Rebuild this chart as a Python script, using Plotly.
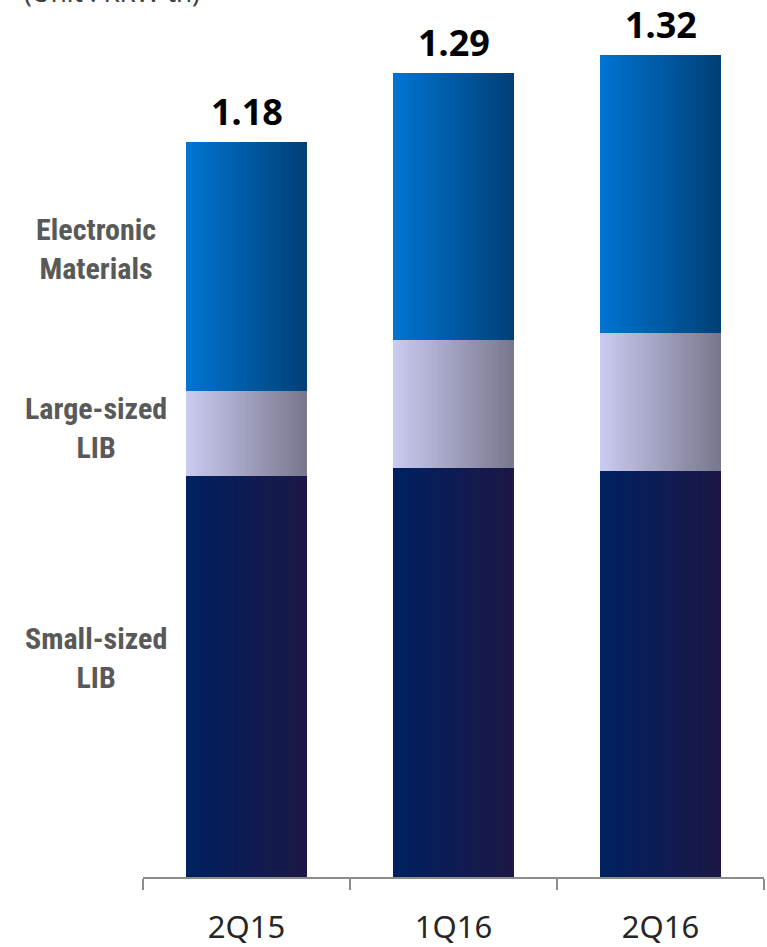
import plotly.graph_objects as go

# ---- data (KRW tn) ----
quarters = ["2Q15", "1Q16", "2Q16"]
totals = [1.18, 1.29, 1.32]
small_lib = [0.644, 0.656, 0.652]
large_lib = [0.137, 0.206, 0.222]
electronic = [0.399, 0.428, 0.446]
segment_names = ["Small-sized LIB", "Large-sized LIB", "Electronic Materials"]
unit_text = "(Unit : KRW tn)"

# ---- styles ----
seg_colors = {
    "Small-sized LIB": ((0, 32, 96), (27, 23, 70)),
    "Large-sized LIB": ((202, 202, 240), (120, 120, 143)),
    "Electronic Materials": ((0, 116, 209), (0, 64, 120)),
}
seg_values = {
    "Small-sized LIB": small_lib,
    "Large-sized LIB": large_lib,
    "Electronic Materials": electronic,
}

W, H = 767, 947
ML, MR, MT, MB = 143, 3, 0, 60
PX_PER_UNIT = 630.0
plot_h = H - MT - MB
y_top = plot_h / PX_PER_UNIT

BAR_W = 0.58
N = 40
sw = BAR_W / N


def mix(c1, c2, t):
    return "rgb(%d,%d,%d)" % tuple(round(a + (b - a) * t) for a, b in zip(c1, c2))


fig = go.Figure()
xs_base = list(range(len(quarters)))
for k in range(N):
    off = -BAR_W / 2 + (k + 0.5) * sw
    xs = [i + off for i in xs_base]
    t = k / (N - 1)
    for name in segment_names:
        c1, c2 = seg_colors[name]
        fig.add_trace(go.Bar(
            x=xs, y=seg_values[name], width=sw * 1.2,
            marker=dict(color=mix(c1, c2, t), line=dict(width=0)),
            showlegend=False, hoverinfo="skip", name=name,
        ))

# total labels
for i, tot in enumerate(totals):
    fig.add_annotation(x=i, y=tot, xref="x", yref="y", text="%.2f" % tot,
                       showarrow=False, yanchor="bottom", yshift=4,
                       font=dict(family="Noto Sans", size=36, color="#000000", weight="bold"))

# left segment labels
label_text = {
    "Electronic Materials": "Electronic<br>Materials",
    "Large-sized LIB": "Large-sized<br>LIB",
    "Small-sized LIB": "Small-sized<br>LIB",
}
label_ypix = {"Electronic Materials": 252, "Large-sized LIB": 433, "Small-sized LIB": 666}
for name in segment_names:
    fig.add_annotation(
        x=(96 - ML) / (W - ML - MR), y=1 - (label_ypix[name] - MT) / plot_h,
        xref="paper", yref="paper", text=label_text[name], showarrow=False,
        xanchor="center", yanchor="middle", align="center",
        font=dict(family="Liberation Sans Narrow, Roboto Condensed, Noto Sans", size=30,
                  color="#595959", weight="bold"))

# unit text (cut off at the top)
fig.add_annotation(x=(22 - ML) / (W - ML - MR), y=1, xref="paper", yref="paper",
                   text=unit_text, showarrow=False, xanchor="left", yanchor="bottom",
                   yshift=-12, font=dict(family="Noto Sans", size=26, color="#404040"))

fig.update_layout(
    width=W, height=H, margin=dict(l=ML, r=MR, t=MT, b=MB),
    barmode="stack", bargap=0, plot_bgcolor="white", paper_bgcolor="white",
    xaxis=dict(range=[-0.5, 2.5], tickmode="array", tickvals=xs_base, ticktext=quarters,
               ticks="", showline=True, linecolor="#8C8C8C", linewidth=2,
               showgrid=False, zeroline=False, ticklabelstandoff=22,
               tickfont=dict(family="Noto Sans", size=31, color="#262626"),
               minor=dict(tickmode="array", tickvals=[-0.5, 0.5, 1.5, 2.5],
                          ticks="outside", ticklen=11, tickwidth=2,
                          tickcolor="#8C8C8C", showgrid=False)),
    yaxis=dict(range=[0, y_top], visible=False, showgrid=False, zeroline=False),
)

fig.write_html("out.html")
